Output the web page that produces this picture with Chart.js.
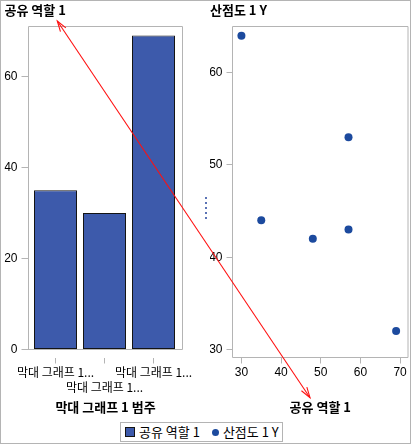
<!DOCTYPE html>
<html>
<head>
<meta charset="utf-8">
<script src="https://cdn.jsdelivr.net/npm/chart.js@4.4.0/dist/chart.umd.min.js"></script>
<style>
  html, body { margin: 0; padding: 0; background: #fff; }
  #root { position: relative; width: 412px; height: 445px; overflow: hidden; font-family: 'Noto Sans CJK KR', sans-serif; }
  #frame { position: absolute; left: 0; top: 0; width: 409px; height: 442px; border: 1px solid #b4b4b4; }
  .panel { position: absolute; top: 0; width: 206px; height: 420px; }
  #legend { position: absolute; left: 120px; top: 422px; height: 18px; border: 1px solid #b4b4b4; background: #fff;
            display: flex; align-items: center; padding: 0 3px 0 4px; font-size: 13px; line-height: 16px; color: #000; white-space: nowrap; }
  .item { display: flex; align-items: center; }
  .sq { width: 8px; height: 8px; border: 1px solid #141414; margin-right: 4px; }
  .dot { width: 7px; height: 7px; border-radius: 50%; margin-left: 12px; margin-right: 4px; }
  .grip { position: absolute; left: 205px; width: 2px; height: 2px; background: #5b73b5; }
  #overlay { position: absolute; left: 0; top: 0; width: 412px; height: 445px; pointer-events: none; }
</style>
</head>
<body>
<div id="root">
  <div id="frame"></div>
  <div class="panel" style="left:0"><canvas id="c1"></canvas></div>
  <div class="panel" style="left:206px"><canvas id="c2"></canvas></div>
  <div id="legend"></div>
  <svg id="overlay" xmlns="http://www.w3.org/2000/svg"></svg>
</div>
<script>
// ---- data ----
const categories = ['막대 그래프 1...', '막대 그래프 1...', '막대 그래프 1...'];
const barValues = [35, 30, 69];
const scatterX = [30, 35, 48, 57, 57, 69];
const scatterY = [64, 44, 42, 53, 43, 32];
const barSeriesName = '공유 역할 1';
const scatterSeriesName = '산점도 1 Y';
const barAxisTitle = '막대 그래프 1 범주';
const scatterXTitle = '공유 역할 1';
const barYTicks = [0, 20, 40, 60];
const scatterYTicks = [30, 40, 50, 60];
const scatterXTicks = [30, 40, 50, 60, 70];

// ---- styles ----
const BAR_FILL = '#3d5aab';
const BAR_EDGE = '#141414';
const MARKER = '#1c4a9e';
const GRID = '#b4b4b4';
const KOR = "'Noto Sans CJK KR', sans-serif";
const NUM = "'Liberation Sans', 'Noto Sans CJK KR', sans-serif";
const korFont = { family: KOR, size: 12, lineHeight: 1.2 };
const korBold = { family: KOR, size: 13, weight: 'bold', lineHeight: 1.2 };
const numFont = { family: NUM, size: 12, lineHeight: 1.2 };

const framePlugin = {
  id: 'frame',
  afterDatasetsDraw(chart, args, opts) {
    const { ctx, chartArea: a } = chart;
    const bottom = opts.zeroBottom ? Math.round(chart.scales.y.getPixelForValue(0) - 0.5) + 0.5 : a.bottom;
    ctx.save();
    ctx.strokeStyle = GRID;
    ctx.lineWidth = 1;
    ctx.beginPath();
    ctx.moveTo(a.left, bottom); ctx.lineTo(a.left, a.top); ctx.lineTo(a.right, a.top);
    ctx.lineTo(a.right, bottom); ctx.lineTo(a.left, bottom);
    ctx.stroke();
    ctx.restore();
  }
};

const setTicks = arr => s => { s.ticks = arr.map(v => ({ value: v })); };

const common = {
  responsive: true, maintainAspectRatio: false, animation: false, events: []
};

new Chart(document.getElementById('c1'), {
  type: 'bar',
  data: {
    datasets: [{
      label: barSeriesName,
      data: categories.map((c, i) => ({ x: i, y: barValues[i] })),
      backgroundColor: BAR_FILL, borderColor: BAR_EDGE, borderWidth: 1, borderSkipped: false,
      barPercentage: 43 / 49, categoryPercentage: 1
    }]
  },
  options: Object.assign({}, common, {
    layout: { padding: { left: 4.5, right: 23.5, top: 0, bottom: 0 } },
    plugins: {
      legend: { display: false }, tooltip: { enabled: false },
      title: { display: true, text: barSeriesName, align: 'start', color: '#000', font: korBold, padding: { top: 2.7, bottom: 8.2 } },
      frame: { zeroBottom: true }
    },
    scales: {
      x: {
        type: 'linear', offset: false, min: -27 / 49, max: 2 + 29 / 49,
        grid: { offset: false, drawOnChartArea: false, drawTicks: true, tickLength: 6, color: GRID },
        border: { display: false },
        ticks: {
          autoSkip: false, maxRotation: 0, minRotation: 0, padding: 2, color: '#000', font: korFont,
          callback: v => (v % 2 === 1 ? ['', categories[v]] : categories[v])
        },
        afterBuildTicks: setTicks(categories.map((c, i) => i)),
        title: { display: true, text: barAxisTitle, color: '#000', font: korBold, padding: { top: 0, bottom: 5.2 } },
        afterFit: s => { s.height = 62.5; }
      },
      y: {
        min: -1.76, max: 71,
        grid: { drawOnChartArea: false, drawTicks: true, tickLength: 7, color: GRID },
        border: { display: false },
        ticks: { padding: 4, color: '#000', font: numFont },
        afterBuildTicks: setTicks(barYTicks),
        afterFit: s => { s.width = 24; }
      }
    }
  }),
  plugins: [framePlugin]
});

new Chart(document.getElementById('c2'), {
  type: 'scatter',
  data: {
    datasets: [{
      label: scatterSeriesName,
      data: scatterX.map((x, i) => ({ x: x, y: scatterY[i] })),
      pointRadius: 4, pointBackgroundColor: MARKER, pointBorderColor: MARKER, pointBorderWidth: 0, showLine: false
    }]
  },
  options: Object.assign({}, common, {
    layout: { padding: { left: 4, right: 2.5, top: 0, bottom: 0 } },
    plugins: {
      legend: { display: false }, tooltip: { enabled: false },
      title: { display: true, text: scatterSeriesName, align: 'start', color: '#000', font: korBold, padding: { top: 2.7, bottom: 8.2 } },
      frame: { zeroBottom: false }
    },
    scales: {
      x: {
        type: 'linear', min: 27.75, max: 72,
        grid: { drawOnChartArea: false, drawTicks: true, tickLength: 6, color: GRID },
        border: { display: false },
        ticks: { padding: 2, color: '#000', font: numFont, maxRotation: 0 },
        afterBuildTicks: setTicks(scatterXTicks),
        title: { display: true, text: scatterXTitle, color: '#000', font: korBold, padding: { top: 0, bottom: 5.2 } },
        afterFit: s => { s.height = 62.5; }
      },
      y: {
        type: 'linear', min: 29.13, max: 65,
        grid: { drawOnChartArea: false, drawTicks: true, tickLength: 6, color: GRID },
        border: { display: false },
        ticks: { padding: 4, color: '#000', font: numFont },
        afterBuildTicks: setTicks(scatterYTicks),
        afterFit: s => { s.width = 22.5; }
      }
    }
  }),
  plugins: [framePlugin]
});

// ---- legend (shared) ----
const legend = document.getElementById('legend');
[{ name: barSeriesName, kind: 'sq', color: BAR_FILL }, { name: scatterSeriesName, kind: 'dot', color: MARKER }]
  .forEach(it => {
    const d = document.createElement('div'); d.className = 'item';
    const m = document.createElement('div'); m.className = it.kind; m.style.background = it.color;
    const t = document.createElement('span'); t.textContent = it.name;
    d.appendChild(m); d.appendChild(t); legend.appendChild(d);
  });

// ---- splitter grip ----
const root = document.getElementById('root');
[197, 202, 207, 212, 217].forEach(y => {
  const g = document.createElement('div'); g.className = 'grip'; g.style.top = y + 'px'; root.appendChild(g);
});

// ---- red double-headed annotation arrow ----
(function () {
  const svg = document.getElementById('overlay');
  const NS = 'http://www.w3.org/2000/svg';
  const p1 = [57.3, 21], p2 = [310, 397.7];
  const mk = (tag, attrs) => { const e = document.createElementNS(NS, tag); for (const k in attrs) e.setAttribute(k, attrs[k]); svg.appendChild(e); };
  mk('line', { x1: p1[0], y1: p1[1], x2: p2[0], y2: p2[1], stroke: '#ff1010', 'stroke-width': 1.1 });
  const head = (tip, from) => {
    const ang = Math.atan2(from[1] - tip[1], from[0] - tip[0]);
    const L = 11, spread = 0.3;
    const a = [tip[0] + L * Math.cos(ang + spread), tip[1] + L * Math.sin(ang + spread)];
    const b = [tip[0] + L * Math.cos(ang - spread), tip[1] + L * Math.sin(ang - spread)];
    mk('polyline', { points: `${a[0]},${a[1]} ${tip[0]},${tip[1]} ${b[0]},${b[1]}`, fill: 'none', stroke: '#ff1010', 'stroke-width': 1.1 });
  };
  head(p1, p2); head(p2, p1);
})();
</script>
</body>
</html>
